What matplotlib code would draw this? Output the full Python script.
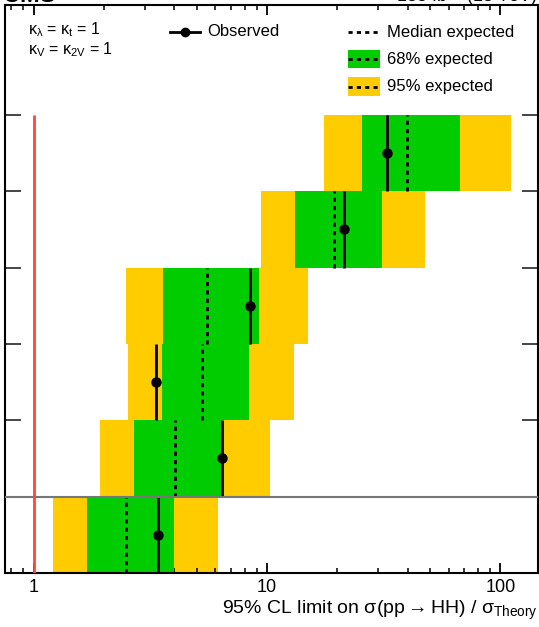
import matplotlib
matplotlib.use("Agg")
import matplotlib.pyplot as plt
import numpy as np
from matplotlib.patches import Rectangle
from matplotlib.lines import Line2D
from matplotlib.ticker import FixedLocator, LogLocator, NullFormatter

plt.rcParams['font.family'] = ['Liberation Sans', 'DejaVu Sans']
plt.rcParams['mathtext.fontset'] = 'custom'
plt.rcParams['mathtext.rm'] = 'Liberation Sans'
plt.rcParams['mathtext.it'] = 'Liberation Sans'
plt.rcParams['mathtext.default'] = 'regular'

# Data, rows from bottom (0) to top (5)
rows = [0, 1, 2, 3, 4, 5]
observed = [3.40, 6.43, 3.34, 8.40, 21.3, 32.5]
median_exp = [2.49, 4.02, 5.25, 5.54, 19.4, 39.8]
band68_lo = [1.69, 2.69, 3.54, 3.58, 13.2, 25.5]
band68_hi = [4.00, 6.41, 8.37, 9.24, 31.1, 67.4]
band95_lo = [1.21, 1.92, 2.53, 2.48, 9.45, 17.6]
band95_hi = [6.14, 10.3, 13.02, 14.95, 47.5, 111.2]
xtick_vals = [1, 10, 100]
xtick_labels = ["1", "10", "100"]

GREEN = '#00cc00'
YELLOW = '#ffcc00'

W, H = 539, 627
fig = plt.figure(figsize=(W / 100, H / 100), dpi=100)
ax = fig.add_axes([5 / W, (H - 573) / H, 533 / W, 568 / H])

r = np.array(rows)
lo95 = np.array(band95_lo); hi95 = np.array(band95_hi)
lo68 = np.array(band68_lo); hi68 = np.array(band68_hi)
ax.barh(r + 0.5, hi95 - lo95, left=lo95, height=1.0, color=YELLOW, edgecolor='none', zorder=1)
ax.barh(r + 0.5, hi68 - lo68, left=lo68, height=1.0, color=GREEN, edgecolor='none', zorder=2)
ax.vlines(median_exp, r, r + 1, colors='black', linestyles=(0, (1.5, 1.5)), lw=2, zorder=3)
ax.vlines(observed, r, r + 1, colors='black', lw=2, zorder=4)
ax.plot(observed, r + 0.5, 'o', color='black', ms=6.5, zorder=5)

ax.axhline(1, color='#777777', lw=1.5, zorder=6)
ax.vlines(1, 0, 6, colors='#ff4444', lw=2, zorder=6)

ax.set_xscale('log')
ax.set_xlim(0.751, 145)
ax.set_ylim(0, 7.44)

ax.xaxis.set_major_locator(FixedLocator(xtick_vals))
ax.set_xticklabels(xtick_labels, fontsize=13)
ax.xaxis.set_minor_locator(LogLocator(base=10, subs=np.arange(2, 10)))
ax.xaxis.set_minor_formatter(NullFormatter())
ax.tick_params(axis='x', which='major', direction='in', length=7.5, width=1.3, top=True, pad=4)
ax.tick_params(axis='x', which='minor', direction='in', length=3.8, width=1.1, top=True)
ax.set_yticks([1, 2, 3, 4, 5, 6])
ax.set_yticklabels([])
ax.tick_params(axis='y', which='major', direction='in', length=11.5, width=1.4, right=True, color='#444444')
ax.tick_params(axis='y', which='minor', left=False, right=False)
for s in ax.spines.values():
    s.set_linewidth(1.5)

ax.set_xlabel(r"95% CL limit on σ(pp$\rightarrow$HH) / σ$_{Theory}$", fontsize=14, loc='right', labelpad=2)

# Text block
ax.text(0.043, 0.956, r"κ$_{λ}$ = κ$_{t}$ = 1", transform=ax.transAxes, fontsize=11.5, va='center', ha='left')
ax.text(0.043, 0.921, r"κ$_{V}$ = κ$_{2V}$ = 1", transform=ax.transAxes, fontsize=11.5, va='center', ha='left')

# Legend (manual)
T = ax.transAxes
def ax_x(px):
    return (px - 5) / 533
def ax_y(py):
    return (573 - py) / 568

ax.add_line(Line2D([ax_x(170), ax_x(200)], [ax_y(32)] * 2, transform=T, color='black', lw=2, zorder=10))
ax.add_line(Line2D([ax_x(185)], [ax_y(32)], transform=T, marker='o', color='black', ms=6, zorder=10))
ax.text(ax_x(207), ax_y(32), "Observed", transform=T, fontsize=12, va='center', ha='left')

ax.add_line(Line2D([ax_x(348), ax_x(380)], [ax_y(32)] * 2, transform=T, color='black', lw=2,
                   linestyle=(0, (1.5, 1.5)), zorder=10))
ax.text(ax_x(387), ax_y(32), "Median expected", transform=T, fontsize=12, va='center', ha='left')

ax.add_patch(Rectangle((ax_x(348), ax_y(68)), ax_x(380) - ax_x(348), ax_y(50) - ax_y(68),
                       transform=T, facecolor=GREEN, edgecolor='none', zorder=9))
ax.add_line(Line2D([ax_x(348), ax_x(380)], [ax_y(59)] * 2, transform=T, color='black', lw=2,
                   linestyle=(0, (1.5, 1.5)), zorder=10))
ax.text(ax_x(387), ax_y(59.5), "68% expected", transform=T, fontsize=12, va='center', ha='left')

ax.add_patch(Rectangle((ax_x(348), ax_y(96)), ax_x(380) - ax_x(348), ax_y(77) - ax_y(96),
                       transform=T, facecolor=YELLOW, edgecolor='none', zorder=9))
ax.add_line(Line2D([ax_x(348), ax_x(380)], [ax_y(86.5)] * 2, transform=T, color='black', lw=2,
                   linestyle=(0, (1.5, 1.5)), zorder=10))
ax.text(ax_x(387), ax_y(86.5), "95% expected", transform=T, fontsize=12, va='center', ha='left')

# Header (partly outside the figure, as in the reference)
fig.text(3 / W, 1 - 2.5 / H, "CMS", fontsize=17, fontweight='bold', ha='left', va='baseline')
fig.text(537 / W, 1 - 2.5 / H, "138 fb$^{-1}$ (13 TeV)", fontsize=13, ha='right', va='baseline')

fig.savefig("out.png", dpi=100)
